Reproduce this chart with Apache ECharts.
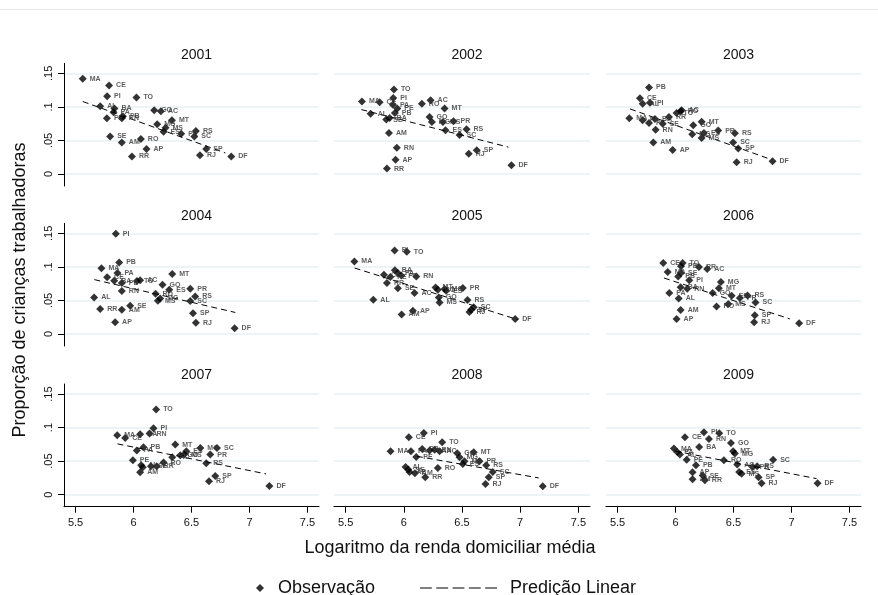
<!DOCTYPE html>
<html>
<head>
<meta charset="utf-8">
<script src="https://cdn.jsdelivr.net/npm/echarts@6/dist/echarts.min.js"></script>
<style>
  html, body { margin: 0; padding: 0; background: #fff; }
  #main { width: 878px; height: 595px; }
</style>
</head>
<body>
<div id="main"></div>
<script>
// unidades da federação (mesma ordem em todos os anos)
const states = ['AC','AL','AM','AP','BA','CE','DF','ES','GO','MA','MG','MS','MT','PA','PB','PE','PI','PR','RJ','RN','RO','RR','RS','SC','SE','SP','TO'];

const anos = ['2001','2002','2003','2004','2005','2006','2007','2008','2009'];

// log da renda domiciliar média (x) e proporção de crianças trabalhadoras (y)
const renda2001 = [6.236,5.712,5.899,6.112,5.835,5.789,6.843,6.259,6.178,5.562,6.204,6.276,6.331,5.827,5.908,5.770,5.772,6.411,6.573,5.899,6.063,5.986,6.538,6.524,5.798,6.627,6.025];
const prop2001  = [0.0935,0.101,0.047,0.037,0.0975,0.132,0.026,0.063,0.095,0.142,0.074,0.069,0.080,0.092,0.086,0.083,0.116,0.060,0.028,0.083,0.052,0.026,0.064,0.056,0.056,0.037,0.114];

const renda2002 = [6.230,5.715,5.872,5.929,5.878,5.792,6.925,6.358,6.221,5.640,6.241,6.336,6.350,5.906,5.923,5.944,5.909,6.427,6.558,5.940,6.155,5.855,6.539,6.479,5.849,6.627,5.915];
const prop2002  = [0.110,0.0896,0.061,0.021,0.0836,0.107,0.0128,0.065,0.085,0.108,0.0776,0.0776,0.0975,0.103,0.091,0.0975,0.1134,0.0785,0.030,0.039,0.1045,0.008,0.0666,0.058,0.081,0.0352,0.126];

const renda2003 = [6.053,5.716,5.808,5.975,5.822,5.693,6.837,6.245,6.153,5.601,6.144,6.225,6.225,5.716,5.771,5.771,5.779,6.368,6.527,5.828,6.044,5.943,6.512,6.497,5.889,6.541,6.009];
const prop2003  = [0.095,0.1045,0.047,0.0358,0.082,0.113,0.0188,0.061,0.0726,0.083,0.059,0.0537,0.078,0.080,0.129,0.076,0.106,0.0646,0.0173,0.066,0.0935,0.085,0.0606,0.047,0.075,0.038,0.091];

const renda2004 = [6.057,5.660,5.899,5.841,5.833,5.772,6.872,6.308,6.250,5.723,6.230,6.210,6.334,5.861,5.876,5.899,5.847,6.489,6.538,5.899,6.190,5.712,6.532,6.489,5.971,6.513,6.029];
const prop2004  = [0.080,0.0545,0.036,0.0173,0.0794,0.0844,0.0083,0.066,0.0735,0.0978,0.053,0.0496,0.0894,0.0909,0.1067,0.076,0.1495,0.0675,0.0168,0.064,0.060,0.0373,0.056,0.049,0.042,0.0307,0.079];

const renda2005 = [6.092,5.738,5.981,6.078,5.923,5.829,6.957,6.364,6.301,5.575,6.350,6.307,6.273,5.949,5.978,5.884,5.921,6.507,6.564,6.107,6.292,5.855,6.547,6.601,5.949,6.579,6.026];
const prop2005  = [0.061,0.051,0.029,0.0347,0.0948,0.0884,0.0223,0.0645,0.0545,0.108,0.067,0.047,0.0694,0.091,0.087,0.085,0.1246,0.0685,0.0328,0.0858,0.066,0.076,0.0507,0.0397,0.068,0.036,0.1227];

const renda2006 = [6.273,6.027,6.044,6.009,6.044,5.894,7.066,6.484,6.320,5.932,6.391,6.455,6.374,5.946,6.023,6.047,6.118,6.555,6.678,6.101,6.354,6.202,6.621,6.690,6.047,6.684,6.061];
const prop2006  = [0.0969,0.053,0.0357,0.0223,0.0695,0.1058,0.0158,0.057,0.061,0.0924,0.0775,0.0447,0.068,0.061,0.0858,0.1008,0.080,0.0536,0.0173,0.0675,0.041,0.0998,0.0575,0.047,0.0909,0.0277,0.1058];

const renda2007 = [6.334,6.066,6.057,6.080,6.057,5.928,7.172,6.455,6.403,5.859,6.576,6.437,6.360,6.028,6.086,5.994,6.172,6.662,6.651,6.138,6.259,6.200,6.627,6.720,6.150,6.705,6.195];
const prop2007  = [0.0557,0.0437,0.0333,0.041,0.090,0.0846,0.013,0.0646,0.0587,0.0885,0.0697,0.0597,0.0746,0.066,0.0706,0.0512,0.099,0.0597,0.0199,0.091,0.0478,0.0423,0.0467,0.0697,0.0423,0.0279,0.1269];

const renda2008 = [6.307,6.015,6.095,6.049,6.221,6.043,7.194,6.507,6.459,5.886,6.479,6.521,6.601,6.061,6.158,6.107,6.172,6.650,6.702,6.264,6.292,6.184,6.708,6.764,6.038,6.730,6.330];
const prop2008  = [0.0647,0.0413,0.0318,0.0339,0.0657,0.0856,0.0124,0.0458,0.0617,0.0647,0.0557,0.0497,0.0632,0.0647,0.068,0.0563,0.092,0.0497,0.016,0.067,0.0398,0.0259,0.0437,0.0339,0.0373,0.0259,0.078];

const renda2009 = [6.532,6.038,6.147,6.147,6.204,6.081,7.225,6.549,6.478,5.986,6.512,6.570,6.497,6.015,6.176,6.096,6.245,6.665,6.742,6.288,6.417,6.253,6.704,6.842,6.234,6.716,6.377];
const prop2009  = [0.0448,0.0597,0.0229,0.0333,0.0712,0.0855,0.0169,0.0339,0.077,0.0687,0.0612,0.0313,0.0647,0.0637,0.0437,0.0522,0.093,0.0413,0.0169,0.083,0.0512,0.0214,0.0423,0.0522,0.0284,0.0259,0.0915];

// predição linear: extremos da reta (x inicial, x final) e (y inicial, y final)
const fitRenda = [[5.562,6.792],[5.635,6.899],[5.607,6.828],[5.662,6.878],[5.577,6.979],[5.900,6.986],[5.861,7.143],[6.112,7.159],[6.003,7.216]];
const fitProp  = [[0.108,0.0313],[0.096,0.040],[0.097,0.0213],[0.081,0.032],[0.0983,0.0213],[0.0834,0.0224],[0.0757,0.0309],[0.0572,0.0249],[0.0647,0.0239]];

const xTicks = [5.5, 6, 6.5, 7, 7.5];
const yTicks = [0, 0.05, 0.1, 0.15];

const rendas = [renda2001,renda2002,renda2003,renda2004,renda2005,renda2006,renda2007,renda2008,renda2009];
const props = [prop2001,prop2002,prop2003,prop2004,prop2005,prop2006,prop2007,prop2008,prop2009];

const narrow = "'Liberation Sans Narrow', 'Liberation Sans', Arial, sans-serif";
const sans = "'Liberation Sans', Arial, sans-serif";

const colLeft = [64, 334, 606];
const colWidth = [255, 256, 255];
const rowTop = [63.3, 223.3, 384];
const rowHeight = 122.7;
const titleY = [50.7, 211.7, 370.7];

const grids = [], xAxes = [], yAxes = [], series = [], titles = [];

anos.forEach((ano, i) => {
  const col = i % 3, row = Math.floor(i / 3);
  const bottomRow = row === 2, leftCol = col === 0;
  grids.push({ left: colLeft[col], top: rowTop[row], width: colWidth[col], height: rowHeight });
  titles.push({
    text: ano, left: colLeft[col] + colWidth[col] / 2, top: titleY[row] - 8, textAlign: 'center',
    textStyle: { fontSize: 14, fontWeight: 'normal', color: '#111', fontFamily: narrow }
  });
  xAxes.push({
    gridIndex: i, type: 'value', min: 5.4, max: 7.6,
    axisLine: { show: bottomRow, onZero: false, lineStyle: { color: '#000', width: 1 } },
    axisTick: { show: bottomRow, customValues: xTicks, length: 6, lineStyle: { color: '#000' } },
    axisLabel: { show: bottomRow, customValues: xTicks, color: '#111', fontSize: 11, fontFamily: narrow, margin: 11 },
    splitLine: { show: false }
  });
  yAxes.push({
    gridIndex: i, type: 'value', min: -0.018, max: 0.165,
    axisLine: { show: leftCol, lineStyle: { color: '#000', width: 1 } },
    axisTick: { show: leftCol, customValues: yTicks, length: 6, lineStyle: { color: '#000' } },
    axisLabel: {
      show: leftCol, customValues: yTicks, rotate: 90, color: '#111', fontSize: 11, fontFamily: narrow, margin: 10,
      formatter: v => v === 0 ? '0' : String(+v.toFixed(2)).replace(/^0/, '')
    },
    splitLine: { show: true, lineStyle: { color: '#e9eff2', width: 1.6 } }
  });
  series.push({
    name: 'Observação', type: 'scatter', xAxisIndex: i, yAxisIndex: i,
    symbol: 'diamond', symbolSize: 8,
    itemStyle: { color: '#000' },
    data: states.map((uf, k) => ({ name: uf, value: [rendas[i][k], props[i][k]] })),
    label: {
      show: true, position: 'right', distance: 3, formatter: '{b}',
      fontSize: 7, fontWeight: 'bold', color: '#333', fontFamily: sans
    },
    z: 3
  });
  series.push({
    name: 'Predição Linear', type: 'line', xAxisIndex: i, yAxisIndex: i,
    symbol: 'none', showSymbol: false, silent: true,
    itemStyle: { color: '#000' },
    lineStyle: { color: '#000', width: 1, type: [6, 4] },
    data: fitRenda[i].map((x, k) => [x, fitProp[i][k]]),
    z: 2
  });
});

const chart = echarts.init(document.getElementById('main'), null, { renderer: 'canvas' });
chart.setOption({
  backgroundColor: '#fff',
  animation: false,
  title: titles,
  grid: grids,
  xAxis: xAxes,
  yAxis: yAxes,
  legend: [
    {
      data: [{ name: 'Observação', icon: 'diamond' }],
      left: 251, top: 574, itemWidth: 8, itemHeight: 8,
      textStyle: { fontSize: 18, color: '#111', fontFamily: sans, padding: [0, 0, 0, 9] },
      selectedMode: false
    },
    {
      data: [{ name: 'Predição Linear', icon: 'path://M0,0h12v1h-12z M16.5,0h12v1h-12z M33,0h12v1h-12z M49.5,0h12v1h-12z M66,0h12v1h-12z' }],
      left: 415, top: 574, itemWidth: 77, itemHeight: 1.5,
      textStyle: { fontSize: 18, color: '#111', fontFamily: sans, padding: [0, 0, 0, 8] },
      selectedMode: false
    }
  ],
  graphic: [
    { type: 'line', shape: { x1: 0, y1: 9.5, x2: 878, y2: 9.5 }, style: { stroke: '#e6e6e6', lineWidth: 1 }, silent: true },
    {
      type: 'text', x: 20, y: 290, rotation: Math.PI / 2, silent: true,
      style: { text: 'Proporção de crianças trabalhadoras', fontSize: 18, fill: '#111', fontFamily: sans, align: 'center', verticalAlign: 'middle' }
    },
    {
      type: 'text', x: 450, y: 548, silent: true,
      style: { text: 'Logaritmo da renda domiciliar média', fontSize: 18, fill: '#111', fontFamily: sans, align: 'center', verticalAlign: 'middle' }
    }
  ],
  series: series
});
</script>
</body>
</html>
